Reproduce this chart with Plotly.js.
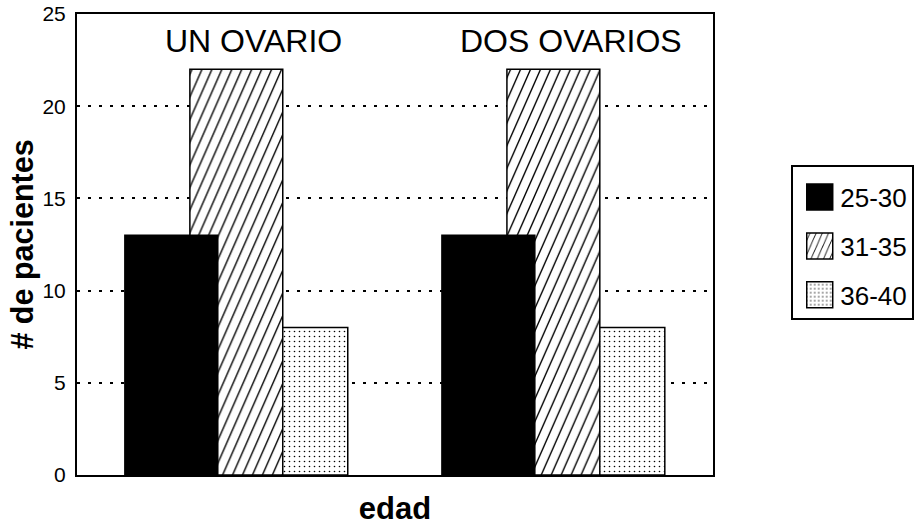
<!DOCTYPE html>
<html>
<head>
<meta charset="utf-8">
<script src="https://cdn.plot.ly/plotly-3.0.1.min.js"></script>
<style>
  html, body { margin: 0; padding: 0; background: #fff; }
  #chart { width: 923px; height: 526px; }
</style>
</head>
<body>
<div id="chart"></div>
<script>
// ---- data ----
const groups = ['UN OVARIO', 'DOS OVARIOS'];
const ageLabels = ['25-30', '31-35', '36-40'];
const values2530 = [13, 13];
const values3135 = [22, 22];
const values3640 = [8, 8];
const yTicks = [0, 5, 10, 15, 20, 25];
const xTitle = 'edad';
const yTitle = '# de pacientes';

const FONT = '"Liberation Sans", Arial, Helvetica, sans-serif';
const BAR_W = 0.293;
const outline = { color: '#000', width: 1.5 };

// drawn back-to-front: dotted, hatched, solid
const traces = [
  {
    type: 'bar', name: ageLabels[2], x: groups, y: values3640,
    offset: 0.058, width: BAR_W, legendrank: 3,
    marker: { color: '#fff', line: outline,
      pattern: { shape: '.', fgcolor: '#000', bgcolor: '#fff', size: 5, solidity: 0.08 } }
  },
  {
    type: 'bar', name: ageLabels[1], x: groups, y: values3135,
    offset: -0.147, width: BAR_W, legendrank: 2,
    marker: { color: '#fff', line: outline,
      pattern: { shape: '/', fgcolor: '#000', bgcolor: '#fff', size: 16, solidity: 0.15 } }
  },
  {
    type: 'bar', name: ageLabels[0], x: groups, y: values2530,
    offset: -0.352, width: BAR_W, legendrank: 1,
    marker: { color: '#000', line: outline }
  }
];
traces.forEach((t, i) => { t.legendgroup = 'g' + i; });

const layout = {
  width: 923, height: 526,
  margin: { l: 77, r: 210, t: 14, b: 51, autoexpand: false },
  paper_bgcolor: '#fff', plot_bgcolor: '#fff',
  font: { family: FONT, color: '#000', size: 21 },
  barmode: 'overlay',
  showlegend: true,
  legend: {
    x: 1.123, xanchor: 'left', y: 0.672, yanchor: 'top',
    bordercolor: '#000', borderwidth: 2, bgcolor: '#fff',
    font: { family: FONT, size: 26, color: '#000' },
    title: { text: ' ', font: { size: 5 } },
    traceorder: 'grouped', tracegroupgap: 12,
    itemwidth: 37, entrywidth: 175
  },
  xaxis: {
    type: 'category', range: [-0.503, 1.503],
    showticklabels: false, ticks: '', showgrid: false, zeroline: false,
    showline: true, mirror: true, linecolor: '#000', linewidth: 2,
    title: { text: xTitle, font: { family: FONT, size: 31, weight: 'bold' }, standoff: 25 },
    automargin: false
  },
  yaxis: {
    range: [0, 25], tickvals: yTicks, ticktext: yTicks.map(String),
    ticks: '', ticklen: 0, zeroline: false, ticklabelstandoff: 5,
    showline: true, mirror: true, linecolor: '#000', linewidth: 2,
    showgrid: true, gridcolor: '#000', gridwidth: 2, griddash: '3px,8px',
    tickfont: { family: FONT, size: 21 },
    title: { text: yTitle, font: { family: FONT, size: 30.5, weight: 'bold' }, standoff: 0 },
    automargin: false
  },
  annotations: groups.map((g, i) => ({
    x: i + 0.055, y: 1, xref: 'x', yref: 'paper', yanchor: 'top', yshift: -7,
    text: g, showarrow: false, font: { family: FONT, size: 32, color: '#000' }
  }))
};

Plotly.newPlot('chart', traces, layout, { staticPlot: true }).then(() => {
  // larger legend swatches, like the original (keep Plotly's own centring transform)
  document.querySelectorAll('#chart .legend .legendpoints path').forEach(p => {
    p.setAttribute('d', 'M16,13H-10V-13H16Z');
  });
  // steeper diagonal hatching
  document.querySelectorAll('#chart defs pattern').forEach(pt => {
    if (pt.querySelector('path') && !pt.querySelector('circle')) {
      pt.setAttribute('patternTransform', 'scale(0.44,1)');
    }
  });
});
</script>
</body>
</html>
